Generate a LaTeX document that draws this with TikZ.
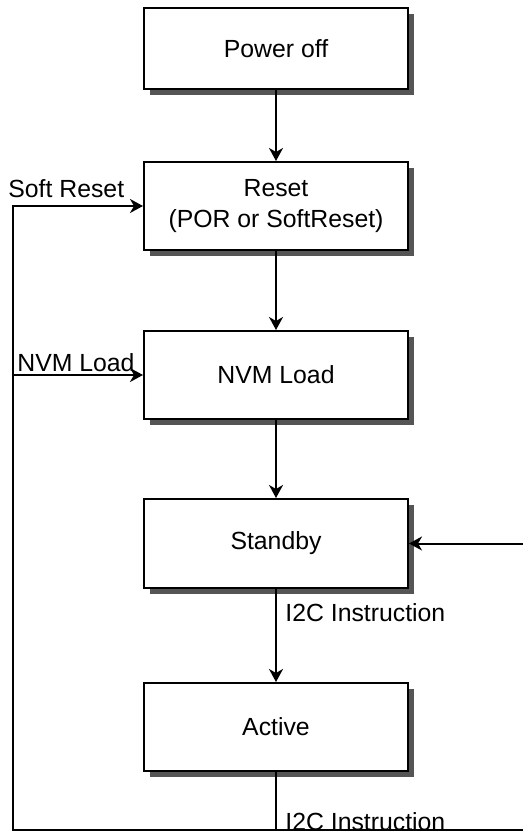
\documentclass[tikz,border=0pt]{standalone}
\usepackage{fontspec}
\setmainfont{Liberation Sans}
\usetikzlibrary{arrows.meta, positioning, shadows}
\definecolor{shadowgray}{RGB}{85,85,85}

\begin{document}
\begin{tikzpicture}[
  statebox/.style={draw, line width=1pt, fill=white, font=\fontsize{12.4}{15.5}\selectfont, align=center, minimum width=132pt, minimum height=44pt, drop shadow={shadow xshift=3pt, shadow yshift=-3pt, fill=shadowgray, opacity=1}},
  lbl/.style={font=\fontsize{12.4}{15}\selectfont, inner sep=0pt},
  arr/.style={line width=1pt, -{Stealth[length=6.5pt, width=7pt, inset=2pt]}},
  wire/.style={line width=1pt},
]
\useasboundingbox (0,0) rectangle (261.5pt,-417pt);

\node[statebox, minimum height=40.5pt] (off) at (138pt,-24.25pt) {Power off};
\node[statebox, below=35.5pt of off] (reset) {Reset\\(POR or SoftReset)};
\node[statebox, below=39.5pt of reset] (nvm) {NVM Load};
\node[statebox, below=39pt of nvm, minimum height=44.5pt] (standby) {Standby};
\node[statebox, below=46.5pt of standby] (active) {Active};

\foreach \a/\b in {off/reset, reset/nvm, nvm/standby, standby/active}
  \draw[arr] (\a) -- (\b);

% feedback paths
\coordinate (corner) at (6.5pt,-415pt);
\coordinate (edge) at (261.5pt,-415pt);

\draw[wire] (active.south) -- (active.south |- corner);
\draw[arr] (edge) -- (corner) |- (reset.west);
\draw[arr] (corner |- nvm.west) -- (nvm.west);
\draw[arr] (standby.east -| edge) -- (standby.east);

\node[lbl, anchor=base west] (softlbl) at ([xshift=-2.5pt, yshift=4pt]corner |- reset.west) {Soft Reset};
\node[lbl, anchor=base west] (nvmlbl) at ([xshift=2pt, yshift=2pt]corner |- nvm.west) {NVM Load};
\node[lbl, anchor=west] (i2cup) at ([xshift=4.5pt, yshift=-12pt]standby.south) {I2C Instruction};
\node[lbl, anchor=base west] (i2cdown) at ([xshift=4.5pt, yshift=-0.3pt]active.south |- corner) {I2C Instruction};
\end{tikzpicture}
\end{document}
